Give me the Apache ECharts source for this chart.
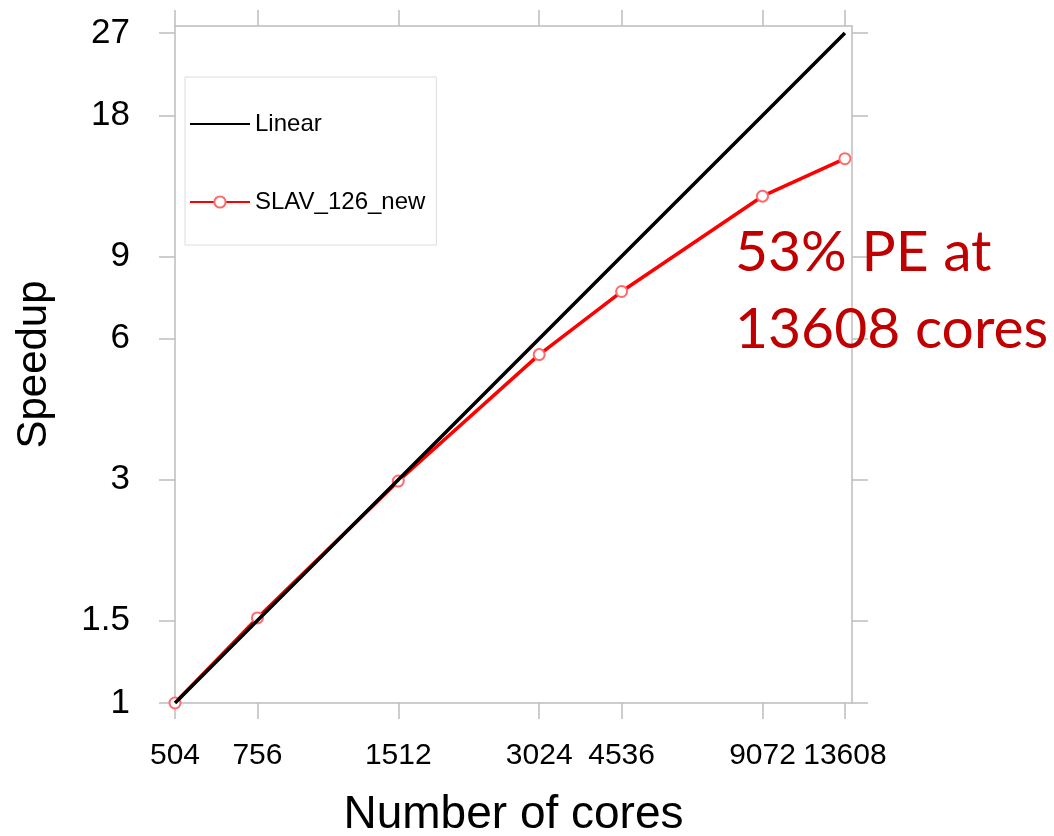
<!DOCTYPE html>
<html>
<head>
<meta charset="utf-8">
<script src="https://cdn.jsdelivr.net/npm/echarts@6/dist/echarts.min.js"></script>
<style>
  html, body { margin: 0; padding: 0; background: #fff; }
  #chart { width: 1054px; height: 836px; }
</style>
</head>
<body>
<div id="chart"></div>
<script>
const cores = [504, 756, 1512, 3024, 4536, 9072, 13608]
const linear = [1, 1.5, 3, 6, 9, 18, 27]
const slav = [1, 1.52, 2.98, 5.55, 7.57, 12.1, 14.55]
const xTicks = [504, 756, 1512, 3024, 4536, 9072, 13608]
const yTicks = [1, 1.5, 3, 6, 9, 18, 27]

const FONT = 'Liberation Sans'
const AXIS = '#bdbdbd'

const chart = echarts.init(document.getElementById('chart'))

const baseAxis = (ticks) => ({
  type: 'log',
  logBase: 10,
  axisLine: { show: true, lineStyle: { color: AXIS, width: 1.5 } },
  axisTick: { show: true, inside: false, length: 16, customValues: ticks, lineStyle: { color: AXIS, width: 1.5 } },
  splitLine: { show: false },
  minorTick: { show: false },
})

chart.setOption({
  animation: false,
  title: {
    text: '53% PE at\n13608 cores',
    left: 735,
    top: 214,
    padding: 0,
    textStyle: { fontFamily: 'Lato', fontWeight: 'normal', fontSize: 57, color: '#c00000', lineHeight: 77 },
  },
  legend: {
    orient: 'vertical',
    left: 185,
    top: 77,
    padding: [35, 11, 31, 4],
    itemWidth: 60,
    itemHeight: 14,
    itemGap: 54,
    borderColor: '#dcdcdc',
    borderWidth: 1,
    data: ['Linear', 'SLAV_126_new'],
    textStyle: { fontFamily: FONT, fontSize: 24, color: '#000' },
  },
  grid: { left: 175, top: 26, right: 202, bottom: 133, outerBoundsMode: 'none' },
  xAxis: [
    {
      ...baseAxis(xTicks),
      min: 504,
      max: 14090,
      name: 'Number of cores',
      nameLocation: 'middle',
      nameGap: 89,
      nameTextStyle: { fontFamily: FONT, fontSize: 46, color: '#000' },
      axisLabel: {
        customValues: xTicks, margin: 38, fontFamily: FONT, fontSize: 30, color: '#000',
        hideOverlap: false, showMaxLabel: true, formatter: (v) => String(v),
      },
    },
    {
      ...baseAxis(xTicks),
      position: 'top',
      min: 504,
      max: 14090,
      axisLabel: { show: false },
    },
  ],
  yAxis: [
    {
      ...baseAxis(yTicks),
      min: 1,
      max: 27.95,
      name: 'Speedup',
      nameLocation: 'middle',
      nameGap: 120,
      nameTextStyle: { fontFamily: FONT, fontSize: 42, color: '#000' },
      axisLabel: {
        customValues: yTicks, margin: 45, fontFamily: FONT, fontSize: 35, color: '#000',
        hideOverlap: false, showMaxLabel: true, formatter: (v) => String(v),
      },
    },
    {
      ...baseAxis(yTicks),
      position: 'right',
      min: 1,
      max: 27.95,
      axisLabel: { show: false },
    },
  ],
  series: [
    {
      name: 'SLAV_126_new',
      type: 'line',
      data: cores.map((c, i) => [c, slav[i]]),
      symbol: 'emptyCircle',
      symbolSize: 11,
      itemStyle: { color: '#ff6a6a', borderWidth: 1.5 },
      lineStyle: { color: '#ff0000', width: 3.5 },
      z: 2,
    },
    {
      name: 'Linear',
      type: 'line',
      data: cores.map((c, i) => [c, linear[i]]),
      symbol: 'none',
      itemStyle: { color: '#000', opacity: 0 },
      lineStyle: { color: '#000', width: 3.5 },
      z: 3,
    },
  ],
})
</script>
</body>
</html>
